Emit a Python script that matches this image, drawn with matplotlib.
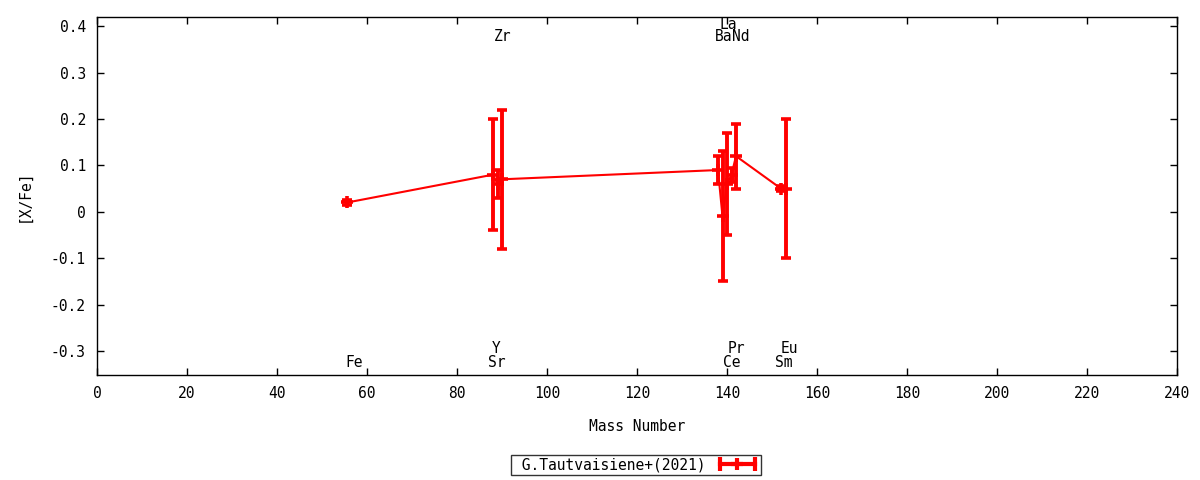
import matplotlib
matplotlib.use("Agg")
import matplotlib.pyplot as plt
from matplotlib.lines import Line2D
from matplotlib.legend_handler import HandlerLine2D, HandlerTuple

# ---- data ----
elements = ['Fe', 'Sr', 'Y', 'Zr', 'Ba', 'La', 'Ce', 'Pr', 'Nd', 'Sm', 'Eu']
mass = [55.6, 88, 89, 90, 138, 139, 140, 141, 142, 152, 153]
xfe = [0.02, 0.08, 0.06, 0.07, 0.09, -0.01, 0.06, 0.08, 0.12, 0.05, 0.05]
xfe_err = [0.005, 0.12, 0.03, 0.15, 0.03, 0.14, 0.11, 0.015, 0.07, 0.005, 0.15]

label_x = [57.1, 88.9, 88.6, 90.1, 139.3, 140.2, 141.1, 142.1, 143.1, 152.6, 153.8]
label_y = [-0.325, -0.325, -0.295, 0.377, 0.377, 0.403, -0.325, -0.295, 0.377, -0.325, -0.295]

xticks = list(range(0, 241, 20))
yticks = [-0.3, -0.2, -0.1, 0, 0.1, 0.2, 0.3, 0.4]
ytick_labels = ['-0.3', '-0.2', '-0.1', '0', '0.1', '0.2', '0.3', '0.4']
series_name = 'G.Tautvaisiene+(2021)'

plt.rcParams['font.family'] = ['DejaVu Sans Mono']
plt.rcParams['font.size'] = 10

fig = plt.figure(figsize=(12, 4.8), dpi=100)
ax = fig.add_axes([97/1200, 1-375/480, (1177-97)/1200, (375-17)/480])

ax.errorbar(mass, xfe, yerr=xfe_err, color='red', lw=1.5, elinewidth=2.8,
            capsize=3.6, capthick=2.8, marker='+', markersize=8, mew=2.6)

for el, lx, ly in zip(elements, label_x, label_y):
    ax.text(lx, ly, el, ha='center', va='center', fontsize=10.5, color='black')

ax.set_xlim(0, 240)
ax.set_ylim(-0.352, 0.42)
ax.set_xticks(xticks)
ax.set_xticklabels([str(t) for t in xticks])
ax.set_yticks(yticks)
ax.set_yticklabels(ytick_labels)
ax.tick_params(direction='in', length=5, width=1, top=True, right=True,
               labelsize=10.5, pad=8, colors='black')
for s in ax.spines.values():
    s.set_linewidth(1)
    s.set_color('black')

ax.set_xlabel('Mass Number', fontsize=10.5, labelpad=13)
ax.set_ylabel('[X/Fe]', fontsize=10.5, labelpad=14)

# legend
h_line = Line2D([], [], color='red', lw=3, marker='|', markersize=10, mew=3)
h_plus = Line2D([], [], color='red', lw=0, marker='+', markersize=9, mew=3)
leg = fig.legend(handles=[(h_line, h_plus)], labels=[' ' + series_name],
                 handler_map={h_line: HandlerLine2D(numpoints=2),
                              h_plus: HandlerLine2D(numpoints=1),
                              tuple: HandlerTuple(ndivide=1)},
                 loc='center', bbox_to_anchor=(636/1200, 1-465/480),
                 markerfirst=False, frameon=True, fancybox=False,
                 handlelength=3.0, borderpad=0.15, handletextpad=0.7,
                 borderaxespad=0, fontsize=10.5)
leg.get_frame().set_edgecolor('black')
leg.get_frame().set_linewidth(1)

fig.savefig('out.png', dpi=100)
